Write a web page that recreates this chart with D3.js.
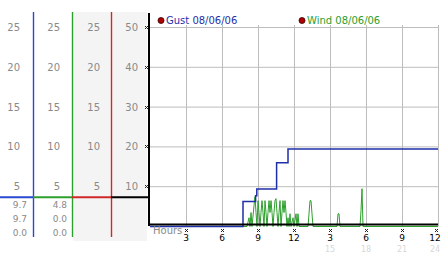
<!DOCTYPE html>
<html>
<head>
<meta charset="utf-8">
<script src="https://cdn.jsdelivr.net/npm/d3@7"></script>
<style>
  body { margin: 0; background: #fff; }
  svg { display: block; font-family: "DejaVu Sans", Verdana, sans-serif; }
</style>
</head>
<body>
<div id="canvas"></div>
<script>
// hours of the day shown on the x axis
const tickHours = [3, 6, 9, 12, 15, 18, 21, 24];
const tickLabels = ["3", "6", "9", "12", "3", "6", "9", "12"];
const altLabels = ["", "", "", "", "15", "18", "21", "24"];

// right scale ticks and left panel scale ticks
const yTicks = [10, 20, 30, 40, 50];
const leftTicks = [5, 10, 15, 20, 25];

// gust step series (hour, value)
const gustHours = [0, 7.75, 8.8, 8.9, 10.55, 11.5, 24];
const gustValues = [0, 6.3, 7.7, 9.4, 16, 19.5, 19.5];

// wind samples, 5 minute slots (slot / 12 = hour)
const windSlots = [0, 97, 99, 100, 101, 102, 104, 105, 106, 107, 108, 109, 110, 111, 112, 113, 114, 115, 116, 117,
  118, 119, 120, 121, 122, 123, 124, 125, 126, 127, 128, 129, 130, 131, 132, 133, 134, 135, 136, 137,
  138, 139, 140, 141, 143, 144, 146, 147, 148, 149, 158, 159, 160, 161, 162, 163, 187, 188, 189, 190,
  210, 211, 212, 213, 288];
const windValues = [0, 0, 2.2, 0, 3.5, 0, 5.2, 7.5, 3.5, 0, 6.5, 3.5, 0, 3.5, 6.5, 3.5, 0, 6.5, 3.5, 0,
  3.5, 6.5, 3.5, 6.5, 3.5, 0, 3.5, 6.5, 7.0, 3.5, 0, 3.5, 6.5, 0, 3.5, 6.5, 3.5, 6.5, 3.5, 0,
  2.2, 0, 3.2, 0, 2.2, 0, 3.2, 0, 3.2, 0, 0, 3.2, 6.5, 6.5, 3.2, 0, 0, 3.2, 3.2, 0,
  0, 4, 9.5, 0, 0];

// readouts under the left panel
const gustReadings = ["9.7", "9.7", "0.0"];
const windReadings = ["4.8", "0.0", "0.0"];
const dividerLevel = 3.6;

const legendNames = ["Gust 08/06/06", "Wind 08/06/06"];

const width = 442, height = 253;
const svg = d3.select("#canvas").append("svg")
    .attr("width", width)
    .attr("height", height);

const x = d3.scaleLinear().domain([0, 24]).range([150, 438]);
const y = d3.scaleLinear().domain([0, 50]).range([226, 27]);
const yLeft = d3.scaleLinear().domain([0, 25]).range([226, 27]);

const blue = "#1f2fa8", green = "#2ca02c", red = "#c0201c";
const labelGray = "#8a8a8a";

// ---- left panel ----
svg.append("rect")
    .attr("x", 73).attr("y", 12).attr("width", 74).attr("height", 229)
    .style("fill", "#f4f4f4");

const colRight = [20, 60, 100, 138];
colRight.slice(0, 3).forEach(cx => {
    svg.selectAll(null).data(leftTicks).enter().append("text")
        .attr("x", cx)
        .attr("y", d => yLeft(d) + 4)
        .attr("text-anchor", "end")
        .style("font-size", "10px")
        .style("fill", labelGray)
        .text(d => d);
});
svg.selectAll(null).data(yTicks).enter().append("text")
    .attr("x", colRight[3])
    .attr("y", d => y(d) + 4)
    .attr("text-anchor", "end")
    .style("font-size", "10px")
    .style("fill", labelGray)
    .text(d => d);

const sepLines = [{ x: 33.5, c: "#2a48d0" }, { x: 72.5, c: green }, { x: 111.5, c: "#d02828" }];
sepLines.forEach(s => {
    svg.append("line")
        .attr("x1", s.x).attr("x2", s.x).attr("y1", 12).attr("y2", 237)
        .style("stroke", s.c).style("stroke-width", 1.4);
});

const divY = yLeft(dividerLevel);
[[0, 33, "#2a48d0"], [33, 72, green], [72, 111, "#d02828"], [111, 150, "#000"]].forEach(seg => {
    svg.append("line")
        .attr("x1", seg[0]).attr("x2", seg[1]).attr("y1", divY).attr("y2", divY)
        .style("stroke", seg[2]).style("stroke-width", 2);
});

[[gustReadings, 27], [windReadings, 67]].forEach(([vals, rx]) => {
    svg.selectAll(null).data(vals).enter().append("text")
        .attr("x", rx)
        .attr("y", (d, i) => 208 + i * 14)
        .attr("text-anchor", "end")
        .style("font-size", "9px")
        .style("fill", labelGray)
        .text(d => d);
});

// ---- plot grid ----
const g = svg.append("g");
g.selectAll(".hgrid").data(yTicks).enter().append("line")
    .attr("class", "hgrid")
    .attr("x1", x(0)).attr("x2", x(24))
    .attr("y1", d => y(d) + 0.5).attr("y2", d => y(d) + 0.5)
    .style("stroke", "#bdbdbd");
g.selectAll(".vgrid").data(tickHours).enter().append("line")
    .attr("class", "vgrid")
    .attr("x1", d => x(d) + 0.5).attr("x2", d => x(d) + 0.5)
    .attr("y1", y(50) - 2).attr("y2", y(0))
    .style("stroke", "#bdbdbd");

// ---- data ----
const line = d3.line().x(d => x(d[0])).y(d => y(d[1]) + 0.5);

const windData = windSlots.map((s, i) => [s / 12, windValues[i]]);
g.append("path")
    .datum(windData)
    .attr("d", line)
    .style("fill", "none")
    .style("stroke", green)
    .style("stroke-width", 1);

const gustData = gustHours.map((h, i) => [h, gustValues[i]]);
g.append("path")
    .datum(gustData)
    .attr("d", line.curve(d3.curveStepAfter))
    .style("fill", "none")
    .style("stroke", blue)
    .style("stroke-width", 1.5);

// ---- axes ----
svg.append("line")
    .attr("x1", 149).attr("x2", 149).attr("y1", 13).attr("y2", 226)
    .style("stroke", "#000").style("stroke-width", 2);
svg.append("line")
    .attr("x1", 148).attr("x2", x(24)).attr("y1", 224.5).attr("y2", 224.5)
    .style("stroke", "#000").style("stroke-width", 2);

// little checker tick marks
function marker(sel, cx, cy) {
    [[-1, -1], [1, -1], [0, 0], [-1, 1], [1, 1]].forEach(p => {
        sel.append("rect")
            .attr("x", cx + p[0]).attr("y", cy + p[1])
            .attr("width", 1).attr("height", 1)
            .style("fill", "#222");
    });
}
yTicks.forEach(d => marker(svg, 146, Math.round(y(d))));
tickHours.forEach(d => marker(svg, Math.min(Math.round(x(d)), 436), 230));

const labelX = d => Math.min(x(d), 435);
svg.selectAll(".xlab").data(tickHours).enter().append("text")
    .attr("class", "xlab")
    .attr("x", labelX)
    .attr("y", 241)
    .attr("text-anchor", "middle")
    .style("font-size", "9px")
    .style("fill", "#000")
    .text((d, i) => tickLabels[i]);
svg.selectAll(".xalt").data(tickHours).enter().append("text")
    .attr("class", "xalt")
    .attr("x", labelX)
    .attr("y", 251.5)
    .attr("text-anchor", "middle")
    .style("font-size", "8px")
    .style("fill", "#d8d8d8")
    .text((d, i) => altLabels[i]);

svg.append("text")
    .attr("x", 153).attr("y", 234)
    .style("font-size", "10px")
    .style("fill", labelGray)
    .text("Hours");

// ---- legend ----
const legendX = [161, 302];
const legendColors = [blue, green];
legendNames.forEach((name, i) => {
    svg.append("circle")
        .attr("cx", legendX[i]).attr("cy", 20.5).attr("r", 3)
        .style("fill", "#b00000").style("stroke", "#300").style("stroke-width", 0.8);
    svg.append("text")
        .attr("x", legendX[i] + 5).attr("y", 24)
        .style("font-size", "10px")
        .style("fill", legendColors[i])
        .text(name);
});
</script>
</body>
</html>
